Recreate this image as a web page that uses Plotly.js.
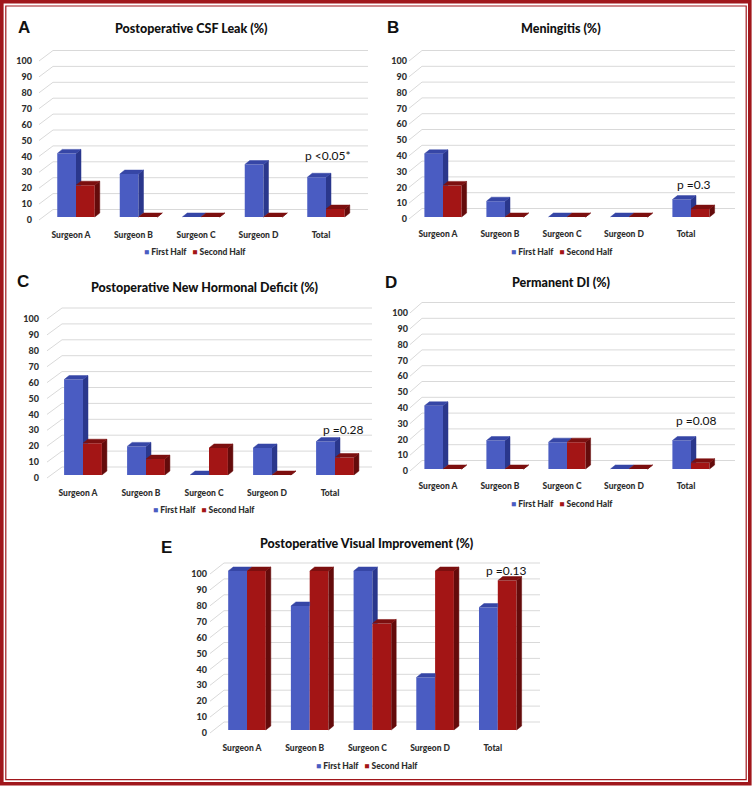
<!DOCTYPE html>
<html><head><meta charset="utf-8">
<script src="https://cdn.plot.ly/plotly-3.0.1.min.js"></script>
<style>html,body{margin:0;padding:0;background:#fff}#chart{width:756px;height:791px}</style>
</head><body><div id="chart"></div>
<script>
// ---------------- DATA ----------------
const categories = ['Surgeon A', 'Surgeon B', 'Surgeon C', 'Surgeon D', 'Total'];
const yTicks = [0, 10, 20, 30, 40, 50, 60, 70, 80, 90, 100];
const seriesNames = ['First Half', 'Second Half'];
const panelLetters = ['A', 'B', 'C', 'D', 'E'];
const panelTitles = ['Postoperative CSF Leak (%)', 'Meningitis (%)', 'Postoperative New Hormonal Deficit (%)', 'Permanent DI (%)', 'Postoperative Visual Improvement (%)'];
const pValues = ['p <0.05*', 'p =0.3', 'p =0.28', 'p =0.08', 'p =0.13'];

const csfFirst = [40, 27, 0, 33, 25];
const csfSecond = [20, 0, 0, 0, 5];
const meningitisFirst = [40, 10, 0, 0, 11];
const meningitisSecond = [20, 0, 0, 0, 5];
const hormonalFirst = [60, 18, 0, 17, 21];
const hormonalSecond = [20, 10, 17, 0, 11];
const diFirst = [40, 18, 17, 0, 18];
const diSecond = [0, 0, 17, 0, 4];
const visualFirst = [100, 78, 100, 33, 77];
const visualSecond = [100, 100, 67, 100, 94];

const firstSeries = [csfFirst, meningitisFirst, hormonalFirst, diFirst, visualFirst];
const secondSeries = [csfSecond, meningitisSecond, hormonalSecond, diSecond, visualSecond];

// ---------------- LAYOUT GEOMETRY (pixels) ----------------
const W = 756, H = 791;
const geom = [
  {left: 39, right: 368, x0: 76, sp: 62.5, yf0: 220, s: 1.59, gdx: 14, gdy: 10.5, boff: 3, ystand: 6,
   letter: [24, 27], title: [191, 29], p: [328, 155], legend: [195, 252]},
  {left: 409, right: 735, x0: 443, sp: 62, yf0: 219, s: 1.58, gdx: 13, gdy: 10.5, boff: 2, ystand: 1,
   letter: [393, 27], title: [561, 29], p: [694, 184], legend: [562, 252]},
  {left: 47, right: 372, x0: 83, sp: 63, yf0: 478, s: 1.59, gdx: 15, gdy: 11, boff: 3, ystand: 7,
   letter: [23, 281], title: [204, 287], p: [343, 429], legend: [204, 510]},
  {left: 410, right: 735, x0: 443, sp: 62, yf0: 471, s: 1.58, gdx: 12, gdy: 10.5, boff: 2, ystand: 1,
   letter: [391, 282], title: [561, 282], p: [696, 420], legend: [562, 504]},
  {left: 210, right: 540, x0: 247, sp: 62.7, yf0: 733, s: 1.59, gdx: 14, gdy: 11, boff: 3, ystand: 2,
   letter: [166, 547], title: [367, 543], p: [507, 570], legend: [367, 766]}
];

const C = {
  blueFront: '#4a5cc2', blueSide: '#2a378c', blueTop: '#3646a6',
  redFront: '#a31515', redSide: '#640b0b', redTop: '#7c0f0f',
  grid: '#d9d9d9', tick: '#2e2e2e', border: '#a0171c'
};
const FONT = 'Lato, "Open Sans", sans-serif';

const traces = [];
const layout = {
  width: W, height: H,
  margin: {l: 0, r: 0, t: 0, b: 0},
  paper_bgcolor: '#ffffff', plot_bgcolor: 'rgba(0,0,0,0)',
  showlegend: false,
  annotations: [], shapes: []
};
const axName = (n) => (n === 1 ? '' : String(n));
const ax = (px) => px / W;
const ay = (py) => 1 - py / H;

geom.forEach((g, p) => {
  const xr = [(g.left - g.x0) / g.sp, (g.right - g.x0) / g.sp];
  const yr = [-3, 108];
  const xdom = [ax(g.left), ax(g.right)];
  const ydom = [ay(g.yf0 + 3 * g.s), ay(g.yf0 - 108 * g.s)];
  const gi = p + 1, bi = p + 6;

  // grid (back wall) subplot - drawn underneath
  layout['xaxis' + axName(gi)] = {domain: xdom, range: xr, anchor: 'y' + axName(gi), visible: false, fixedrange: true};
  layout['yaxis' + axName(gi)] = {domain: ydom, range: yr, anchor: 'x' + axName(gi), visible: false, fixedrange: true};
  const gdxU = g.gdx / g.sp, gdyU = g.gdy / g.s;
  const gx = [], gy = [];
  yTicks.forEach(v => {
    gx.push(xr[0], xr[0] + gdxU, xr[1], null);
    gy.push(v, v + gdyU, v + gdyU, null);
  });
  traces.push({type: 'scatter', mode: 'lines', x: gx, y: gy, xaxis: 'x' + axName(gi), yaxis: 'y' + axName(gi),
    line: {color: C.grid, width: 1}, hoverinfo: 'skip', connectgaps: false});

  // bar subplot
  layout['xaxis' + bi] = {domain: xdom, range: xr, anchor: 'y' + bi, tickvals: categories.map((c, i) => i), ticktext: categories,
    showgrid: false, zeroline: false, showline: false, ticks: '', ticklabelshift: -5, ticklabelstandoff: 4,
    tickfont: {family: FONT, size: 8.5, color: C.tick, weight: 900}, fixedrange: true};
  layout['yaxis' + bi] = {domain: ydom, range: yr, anchor: 'x' + bi, tickvals: yTicks, ticktext: yTicks.map(String),
    showgrid: false, zeroline: false, showline: false, ticks: '', ticklabelstandoff: g.ystand,
    tickfont: {family: FONT, size: 9, color: C.tick, weight: 900}, fixedrange: true};

  const B = g.boff / g.s, bdx = 5 / g.sp, bdy = 4 / g.s, hw = 0.3;
  const first = firstSeries[p], second = secondSeries[p];
  const xs = categories.map((c, i) => i);
  traces.push({type: 'bar', name: seriesNames[0], x: xs, y: first, base: B, offset: -hw, width: hw,
    marker: {color: C.blueFront, line: {width: 0}}, xaxis: 'x' + bi, yaxis: 'y' + bi, hoverinfo: 'skip'});
  traces.push({type: 'bar', name: seriesNames[1], x: xs, y: second, base: B, offset: 0, width: hw,
    marker: {color: C.redFront, line: {width: 0}}, xaxis: 'x' + bi, yaxis: 'y' + bi, hoverinfo: 'skip'});

  const bs = {x: [], y: []}, bt = {x: [], y: []}, rs = {x: [], y: []}, rt = {x: [], y: []};
  const poly = (o, pts) => { pts.forEach(q => { o.x.push(q[0]); o.y.push(q[1]); }); o.x.push(null); o.y.push(null); };
  xs.forEach((i) => {
    const vb = first[i], vr = second[i];
    const xb0 = i - hw, x1 = i, xr1 = i + hw;
    const tb = B + vb, tr = B + vr;
    if (vb > vr) {
      const yl = vr > 0 ? tr : B;
      poly(bs, [[x1, yl], [x1 + bdx, Math.max(yl, B + bdy)], [x1 + bdx, tb + bdy], [x1, tb]]);
      poly(bt, [[xb0, tb], [xb0 + bdx, tb + bdy], [x1 + bdx, tb + bdy], [x1, tb]]);
    } else if (vb === vr) {
      poly(bt, [[xb0, tb], [xb0 + bdx, tb + bdy], [x1 + bdx, tb + bdy], [x1, tb]]);
    } else {
      poly(bt, [[xb0, tb], [xb0 + bdx, tb + bdy], [x1, tb + bdy], [x1, tb]]);
    }
    poly(rs, [[xr1, B], [xr1 + bdx, B + bdy], [xr1 + bdx, tr + bdy], [xr1, tr]]);
    poly(rt, [[x1, tr], [x1 + bdx, tr + bdy], [xr1 + bdx, tr + bdy], [xr1, tr]]);
  });
  [[bs, C.blueSide], [bt, C.blueTop], [rs, C.redSide], [rt, C.redTop]].forEach(([o, col]) => {
    traces.push({type: 'scatter', mode: 'lines', x: o.x, y: o.y, fill: 'toself', fillcolor: col,
      line: {color: col, width: 0.5}, xaxis: 'x' + bi, yaxis: 'y' + bi, hoverinfo: 'skip', connectgaps: false});
  });

  // annotations
  layout.annotations.push({xref: 'paper', yref: 'paper', x: ax(g.letter[0]), y: ay(g.letter[1]), xanchor: 'center', yanchor: 'middle',
    text: panelLetters[p], showarrow: false, font: {family: '"Liberation Sans", Arial, sans-serif', size: 17, color: '#111', weight: 'bold'}});
  layout.annotations.push({xref: 'paper', yref: 'paper', x: ax(g.title[0]), y: ay(g.title[1]), xanchor: 'center', yanchor: 'middle',
    text: panelTitles[p], showarrow: false, font: {family: FONT, size: 12.5, color: '#111', weight: 900}});
  layout.annotations.push({xref: 'paper', yref: 'paper', x: ax(g.p[0]), y: ay(g.p[1]), xanchor: 'center', yanchor: 'middle',
    text: pValues[p], showarrow: false, font: {family: FONT, size: 12, color: '#111'}});
  layout.annotations.push({xref: 'paper', yref: 'paper', x: ax(g.legend[0]), y: ay(g.legend[1]), xanchor: 'center', yanchor: 'middle',
    text: '<span style="color:' + C.blueFront + '">■</span> ' + seriesNames[0] + '&nbsp;&nbsp; <span style="color:' + C.redFront + '">■</span> ' + seriesNames[1],
    showarrow: false, font: {family: FONT, size: 8.5, color: C.tick, weight: 900}});
});

// double red frame
layout.shapes.push({type: 'rect', xref: 'paper', yref: 'paper', x0: ax(1.8), x1: ax(749.8), y0: ay(1.8), y1: ay(783.8),
  line: {color: C.border, width: 3.6}, fillcolor: 'rgba(0,0,0,0)'});
layout.shapes.push({type: 'rect', xref: 'paper', yref: 'paper', x0: ax(5.8), x1: ax(746.2), y0: ay(6), y1: ay(779.7),
  line: {color: C.border, width: 1.2}, fillcolor: 'rgba(0,0,0,0)'});

Plotly.newPlot('chart', traces, layout, {staticPlot: true, displayModeBar: false});
</script>
</body></html>
